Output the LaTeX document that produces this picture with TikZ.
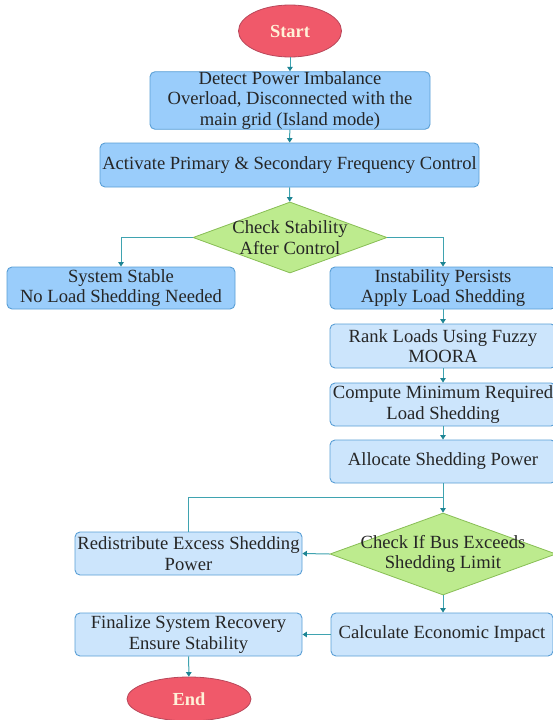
\documentclass[tikz,border=0pt]{standalone}
\usepackage{fontspec}
\setmainfont{Liberation Serif}
\usetikzlibrary{arrows.meta,shapes.geometric}
\definecolor{termfill}{HTML}{F0596A}
\definecolor{termdraw}{HTML}{B9475A}
\definecolor{termtext}{HTML}{FFF1D8}
\definecolor{darkfill}{HTML}{9ACDFB}
\definecolor{lightfill}{HTML}{CCE5FC}
\definecolor{boxdraw}{HTML}{5A9FD6}
\definecolor{decfill}{HTML}{BDEB8E}
\definecolor{decdraw}{HTML}{88BE55}
\definecolor{linecol}{HTML}{3FA3B0}
\definecolor{tipcol}{HTML}{1E8594}
\tikzset{
  txt/.style={font=\fontsize{18.6}{20.3}\selectfont, text=black!85, align=center},
  term/.style={ellipse, draw=termdraw, fill=termfill, line width=0.8pt, inner sep=0pt,
    font=\fontsize{18.4}{20}\selectfont\bfseries, text=termtext},
  darkbox/.style={txt, rectangle, rounded corners=5pt, draw=boxdraw, fill=darkfill, line width=0.9pt, inner sep=0pt},
  lightbox/.style={txt, rectangle, rounded corners=5pt, draw=boxdraw, fill=lightfill, line width=0.9pt, inner sep=0pt},
  decision/.style={diamond, draw=decdraw, fill=decfill, line width=0.8pt, inner sep=0pt},
  dectext/.style={txt},
  conn/.style={draw=linecol, line width=1pt, -{Triangle[width=5.5pt,length=4.5pt,color=tipcol]}},
  plainconn/.style={draw=linecol, line width=1pt}
}
\begin{document}
\begin{tikzpicture}[x=1pt,y=-1pt]
\useasboundingbox (0,0) rectangle (553,720);
\fill[white] (0,0) rectangle (553,720);

\node[term, minimum width=103pt, minimum height=52pt] (start) at (290,31) {Start};
\node[darkbox, minimum width=280pt, minimum height=57pt] (detect) at (290,100.5) {Detect Power Imbalance\\Overload, Disconnected with the\\main grid (Island mode)};
\node[darkbox, minimum width=379pt, minimum height=44pt] (activate) at (289.5,165) {Activate Primary \& Secondary Frequency Control};
\node[decision, minimum width=194pt, minimum height=71pt,
  label={[dectext]center:Check Stability\\After Control}] (d1) at (290,237.5) {};
\node[darkbox, minimum width=228pt, minimum height=42pt] (stable) at (121,288) {System Stable\\No Load Shedding Needed};
\node[darkbox, minimum width=226pt, minimum height=42pt] (inst) at (443,288) {Instability Persists\\Apply Load Shedding};
\node[lightbox, minimum width=226pt, minimum height=44pt] (rank) at (443,346) {Rank Loads Using Fuzzy\\MOORA};
\node[lightbox, minimum width=226pt, minimum height=43pt] (compute) at (443,404.5) {Compute Minimum Required\\Load Shedding};
\node[lightbox, minimum width=226pt, minimum height=43pt] (alloc) at (443,461.5) {Allocate Shedding Power};
\node[decision, minimum width=226pt, minimum height=82pt,
  label={[dectext]center:Check If Bus Exceeds\\Shedding Limit}] (d2) at (443,554) {};
\node[lightbox, minimum width=227pt, minimum height=43pt] (redist) at (188.5,553.5) {Redistribute Excess Shedding\\Power};
\node[lightbox, minimum width=222pt, minimum height=43pt] (calc) at (442,634.5) {Calculate Economic Impact};
\node[lightbox, minimum width=227pt, minimum height=43pt] (final) at (188.5,634.5) {Finalize System Recovery\\Ensure Stability};
\node[term, minimum width=124pt, minimum height=44pt] (end) at (189,699) {End};

\coordinate (j) at (443,497);

\draw[conn] (start) -- (detect);
\draw[conn] (detect) -- (activate);
\draw[conn] (activate) -- (d1);
\draw[conn] (d1.west) -| (stable.north);
\draw[conn] (d1.east) -| (inst.north);
\draw[conn] (inst) -- (rank);
\draw[conn] (rank) -- (compute);
\draw[conn] (compute) -- (alloc);
\draw[conn] (alloc) -- (d2);
\draw[plainconn] (redist.north) |- (j);
\draw[conn] (d2.west) -- (redist.east);
\draw[conn] (d2.south) -- (d2.south |- calc.north);
\draw[conn] (calc.west) -- (final.east);
\draw[conn] (final) -- (end);
\end{tikzpicture}
\end{document}
